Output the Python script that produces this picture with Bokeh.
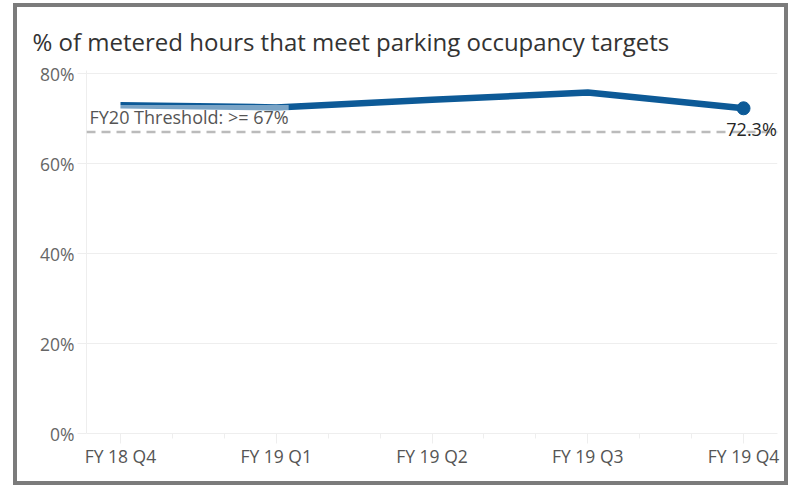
from bokeh.plotting import figure
from bokeh.models import Range1d, Span, Label, PrintfTickFormatter, FixedTicker, Title
from bokeh.embed import file_html
from bokeh.resources import INLINE

quarters = ["FY 18 Q4", "FY 19 Q1", "FY 19 Q2", "FY 19 Q3", "FY 19 Q4"]
values = [73.0, 72.5, 74.2, 75.8, 72.3]
threshold = 67
threshold_label = "FY20 Threshold: >= 67%"
y_ticks = [0, 20, 40, 60, 80]

FONT = "Open Sans"
xs = list(range(len(quarters)))
X0, X1 = -0.218, 4.218

p = figure(width=767, height=474, output_backend="svg", toolbar_location=None,
           x_range=Range1d(X0, X1), y_range=Range1d(0, 80.7),
           min_border_left=69, min_border_right=7, min_border_top=63, min_border_bottom=48)
p.margin = (7, 0, 0, 17)
p.styles = {"outline": "4px solid #7b7b7b"}
p.title = Title(text="% of metered hours that meet parking occupancy targets",
                text_font=FONT, text_font_size="24px", text_font_style="normal",
                text_color="#333333", align="left", offset=-54)
# empty spacer between title and plot area
p.add_layout(Title(text=" ", text_font_size="6px", standoff=0), "above")
p.outline_line_color = None
p.background_fill_color = "white"
p.border_fill_color = "white"

p.xgrid.grid_line_color = None
p.ygrid.grid_line_color = "#eeeeee"
p.ygrid.ticker = FixedTicker(ticks=y_ticks)

p.yaxis.ticker = FixedTicker(ticks=y_ticks)
p.yaxis.formatter = PrintfTickFormatter(format="%d%%")
p.yaxis.axis_line_color = "#eeeeee"
p.yaxis.major_tick_line_color = "#eeeeee"
p.yaxis.major_tick_out = 9
p.yaxis.major_tick_in = 0
p.yaxis.minor_tick_line_color = None
p.yaxis.major_label_text_font = FONT
p.yaxis.major_label_text_font_size = "17.5px"
p.yaxis.major_label_text_color = "#666666"
p.yaxis.major_label_standoff = 3

minor = []
for i in range(len(quarters) - 1):
    minor += [i + 1/3, i + 2/3]
p.xaxis.ticker = FixedTicker(ticks=xs, minor_ticks=[-1/3] + minor)
p.xaxis.major_label_overrides = {i: q for i, q in enumerate(quarters)}
p.xaxis.axis_line_color = "#eeeeee"
p.xaxis.major_tick_line_color = "#eeeeee"
p.xaxis.major_tick_out = 10
p.xaxis.major_tick_in = 0
p.xaxis.minor_tick_line_color = "#eeeeee"
p.xaxis.minor_tick_out = 5
p.xaxis.minor_tick_in = 0
p.xaxis.major_label_text_font = FONT
p.xaxis.major_label_text_font_size = "17.5px"
p.xaxis.major_label_text_color = "#555555"
p.xaxis.major_label_standoff = 0

p.line(xs, values, line_color="#0d5a97", line_width=6.5, line_join="round")
p.scatter([xs[-1]], [values[-1]], size=13, color="#0d5a97")

p.add_layout(Span(location=threshold, dimension="width", line_color="#bbbbbb",
                  line_width=2.5, line_dash="9 6"))

p.add_layout(Label(x=X0, y=threshold, text=threshold_label, x_offset=3, y_offset=3,
                   text_font=FONT, text_font_size="18px", text_color="#555555",
                   text_baseline="bottom", background_fill_color="white",
                   background_fill_alpha=0.45))

p.add_layout(Label(x=xs[-1], y=values[-1], text="%.1f%%" % values[-1], x_offset=8, y_offset=-9,
                   text_font=FONT, text_font_size="18px", text_color="#252525",
                   text_align="center", text_baseline="top"))

open("out.html", "w").write(file_html(p, INLINE))
